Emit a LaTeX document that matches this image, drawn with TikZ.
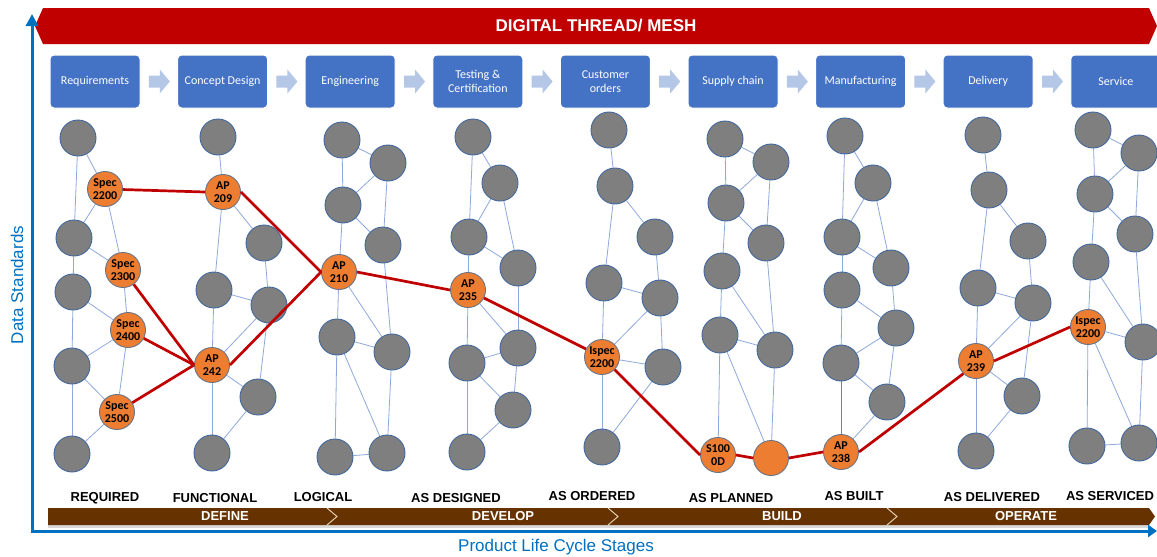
\documentclass[tikz,border=0pt]{standalone}
\usepackage{fontspec}
\setmainfont{Liberation Sans}
\newfontfamily\calfont{Carlito}
\usetikzlibrary{arrows.meta,calc}
\definecolor{nodegray}{HTML}{7F7F7F}
\definecolor{nodeborder}{HTML}{41679C}
\definecolor{nodeorange}{HTML}{ED7D31}
\definecolor{orangeborder}{HTML}{6A7487}
\definecolor{edgeblue}{HTML}{8EA9DB}
\definecolor{threadred}{HTML}{C00000}
\definecolor{boxblue}{HTML}{4472C4}
\definecolor{arrowfill}{HTML}{B4C7E7}
\definecolor{bandbrown}{HTML}{663300}
\definecolor{chevronline}{HTML}{EAD9BF}
\definecolor{axisblue}{HTML}{0070C0}
\definecolor{bannerred}{HTML}{C00000}
\pgfdeclarelayer{bg}
\pgfsetlayers{bg,main}
\begin{document}
\begin{tikzpicture}[x=1pt,y=-1pt,
  gnode/.style={circle, fill=nodegray, draw=nodeborder, line width=0.9pt, minimum size=36pt, inner sep=0pt},
  onode/.style={circle, fill=nodeorange, draw=orangeborder, line width=0.9pt, minimum size=35pt, inner sep=0pt,
    font=\calfont\bfseries\fontsize{12}{13.5}\selectfont, align=center, text=black},
  edge/.style={draw=edgeblue, line width=0.8pt},
  thread/.style={draw=threadred, line width=2.7pt},
  stagebox/.style={rectangle, rounded corners=4pt, fill=boxblue, draw=white, line width=1pt,
    minimum width=90pt, minimum height=53pt, inner sep=1pt, text=white,
    font=\calfont\fontsize{12}{14}\selectfont, align=center},
  stagelabel/.style={font=\bfseries\fontsize{13}{15}\selectfont, text=black, inner sep=0pt},
  phaselabel/.style={font=\bfseries\fontsize{13}{15}\selectfont, text=white, inner sep=0pt},
  axislabel/.style={font=\fontsize{17}{19}\selectfont, text=axisblue, inner sep=0pt}
]
\useasboundingbox (0,0) rectangle (1157,557);
\begin{pgfonlayer}{bg}
\fill[white] (0,0) rectangle (1157,557);
\end{pgfonlayer}

% banner
\fill[bannerred] (35,26) -- (43,8) -- (1149,8) -- (1157,26) -- (1149,44) -- (43,44) -- cycle;
\node[font=\bfseries\fontsize{17}{19}\selectfont, text=white] (banner) at (596,26) {DIGITAL THREAD/ MESH};

% stage boxes
\node[stagebox] (s1) at (95,81.5) {Requirements};
\node[stagebox] (s2) at (222.6,81.5) {Concept Design};
\node[stagebox] (s3) at (350.2,81.5) {Engineering};
\node[stagebox] (s4) at (477.8,81.5) {Testing \&\\Certification};
\node[stagebox] (s5) at (605.4,81.5) {Customer\\orders};
\node[stagebox] (s6) at (733,81.5) {Supply chain};
\node[stagebox] (s7) at (860.6,81.5) {Manufacturing};
\node[stagebox] (s8) at (988.2,81.5) {Delivery};
\node[stagebox] (s9) at (1115.8,81.5) {Service};
\foreach \i/\j in {1/2,2/3,3/4,4/5,5/6,6/7,7/8,8/9}
  \fill[arrowfill] ($(s\i.east)!0.5!(s\j.west)$) ++(-10,-6) -- ++(11,0) -- ++(0,-6) -- ++(10,12) -- ++(-10,12) -- ++(0,-6) -- ++(-11,0) -- cycle;

% cluster A (REQUIRED)
\node[gnode] (a1) at (78,138) {};
\node[onode] (sp2200) at (105,189) {Spec\\2200};
\node[gnode] (a2) at (74,238) {};
\node[onode] (sp2300) at (123,270) {Spec\\2300};
\node[gnode] (a3) at (73,292) {};
\node[onode] (sp2400) at (128,330) {Spec\\2400};
\node[gnode] (a4) at (72,366) {};
\node[onode] (sp2500) at (117,412) {Spec\\2500};
\node[gnode] (a5) at (72,454) {};

% cluster B (FUNCTIONAL)
\node[gnode] (b1) at (218,137) {};
\node[onode] (ap209) at (223,192) {AP\\209};
\node[gnode] (b2) at (264,243) {};
\node[gnode] (b3) at (214,290) {};
\node[gnode] (b4) at (269,305) {};
\node[onode] (ap242) at (212,365) {AP\\242};
\node[gnode] (b5) at (258,397) {};
\node[gnode] (b6) at (212,453) {};

% cluster C (LOGICAL)
\node[gnode] (c1) at (342,140) {};
\node[gnode] (c2) at (388,163) {};
\node[gnode] (c3) at (343,205) {};
\node[gnode] (c4) at (383,245) {};
\node[onode] (ap210) at (339,272) {AP\\210};
\node[gnode] (c5) at (337,337) {};
\node[gnode] (c6) at (392,352) {};
\node[gnode] (c7) at (335,457) {};
\node[gnode] (c8) at (387,453) {};

% cluster D (AS DESIGNED)
\node[gnode] (d1) at (473,137) {};
\node[gnode] (d2) at (500,183) {};
\node[gnode] (d3) at (469,237) {};
\node[gnode] (d4) at (518,268) {};
\node[onode] (ap235) at (468,290) {AP\\235};
\node[gnode] (d5) at (467,363) {};
\node[gnode] (d6) at (518,348) {};
\node[gnode] (d7) at (513,410) {};
\node[gnode] (d8) at (467,452) {};

% cluster E (AS ORDERED)
\node[gnode] (e1) at (609,130) {};
\node[gnode] (e2) at (615,186) {};
\node[gnode] (e3) at (655,237) {};
\node[gnode] (e4) at (604,283) {};
\node[gnode] (e5) at (660,298) {};
\node[onode] (is1) at (602,357) {Ispec\\2200};
\node[gnode] (e6) at (663,367) {};
\node[gnode] (e7) at (602,447) {};

% cluster F (AS PLANNED)
\node[gnode] (f1) at (725,139) {};
\node[gnode] (f2) at (771,162) {};
\node[gnode] (f3) at (726,203) {};
\node[gnode] (f4) at (766,243) {};
\node[gnode] (f5) at (722,271) {};
\node[gnode] (f6) at (720,335) {};
\node[gnode] (f7) at (775,350) {};
\node[onode] (s1000) at (718,455) {S100\\0D};
\node[onode] (f8) at (771,458) {};

% cluster G (AS BUILT)
\node[gnode] (g1) at (845,136) {};
\node[gnode] (g2) at (873,183) {};
\node[gnode] (g3) at (842,237) {};
\node[gnode] (g4) at (891,268) {};
\node[gnode] (g5) at (842,290) {};
\node[gnode] (g6) at (896,328) {};
\node[gnode] (g7) at (841,363) {};
\node[gnode] (g8) at (887,402) {};
\node[onode] (ap238) at (841,452) {AP\\238};

% cluster H (AS DELIVERED)
\node[gnode] (h1) at (983,135) {};
\node[gnode] (h2) at (989,190) {};
\node[gnode] (h3) at (1028,241) {};
\node[gnode] (h4) at (978,288) {};
\node[gnode] (h5) at (1033,303) {};
\node[onode] (ap239) at (976,361) {AP\\239};
\node[gnode] (h6) at (1022,396) {};
\node[gnode] (h7) at (976,451) {};

% cluster I (AS SERVICED)
\node[gnode] (i1) at (1093,130) {};
\node[gnode] (i2) at (1139,153) {};
\node[gnode] (i3) at (1095,194) {};
\node[gnode] (i4) at (1135,234) {};
\node[gnode] (i5) at (1091,262) {};
\node[onode] (is2) at (1088,327) {Ispec\\2200};
\node[gnode] (i6) at (1143,342) {};
\node[gnode] (i7) at (1087,446) {};
\node[gnode] (i8) at (1139,443) {};

% thin mesh edges
\begin{pgfonlayer}{bg}
\foreach \u/\v in {a1/sp2200, a1/a2, sp2200/a2, sp2200/sp2300, a2/sp2300, a2/a3, a3/sp2400,
  sp2300/sp2400, a3/a4, sp2400/a4, sp2400/sp2500, a4/sp2500, a4/a5, sp2500/a5,
  b1/ap209, ap209/b3, ap209/b2, b2/b4, b3/b4, b3/ap242, b4/ap242, b4/b5, ap242/b5, ap242/b6, b5/b6,
  c1/c2, c1/c3, c3/c2, c2/c4, c3/c4, c3/ap210, ap210/c5, ap210/c6, c4/c6, c5/c6, c5/c7, c5/c8, c6/c8, c7/c8,
  d1/d2, d1/d3, d2/d3, d2/d4, d3/d4, d3/ap235, ap235/d5, ap235/d6, d4/d6, d5/d6, d6/d7, d5/d7, d5/d8, d7/d8,
  e1/e2, e2/e3, e2/e4, e3/e5, e4/e5, e4/is1, is1/e5, is1/e6, e5/e6, is1/e7, e6/e7,
  f1/f2, f1/f3, f3/f2, f2/f4, f3/f4, f3/f5, f5/f6, f5/f7, f4/f7, f6/f7, f6/s1000, f6/f8, f7/f8,
  g1/g2, g1/g3, g2/g3, g2/g4, g3/g4, g3/g5, g4/g6, g5/g6, g5/g7, g7/g6, g7/g8, g6/g8, g8/ap238,
  h1/h2, h2/h3, h2/h4, h3/h5, h4/h5, h4/ap239, ap239/h5, ap239/h6, h5/h6, ap239/h7, h6/h7,
  i1/i2, i1/i3, i3/i2, i2/i4, i3/i4, i3/i5, i5/is2, i5/i6, i4/i6, is2/i6, is2/i7, is2/i8, i6/i8, i7/i8}
  \draw[edge] (\u) -- (\v);
\draw[draw=gray, line width=1pt] (g7) -- (ap238);
\end{pgfonlayer}

% digital thread
\draw[thread] (sp2200) -- (ap209.west);
\draw[thread] (ap209.east) -- (ap210.west);
\draw[thread] (sp2300) -- (ap242.west);
\draw[thread] (sp2400) -- (ap242.west);
\draw[thread] (sp2500) -- (ap242.west);
\draw[thread] (ap242.east) -- (ap210.west);
\draw[thread] (ap210.east) -- (ap235.west);
\draw[thread] (ap235) -- (is1);
\draw[thread] (is1) -- (s1000.west);
\draw[thread] (s1000.east) -- (f8.west);
\draw[thread] (f8.east) -- (ap238.west);
\draw[thread] (ap238.east) -- (ap239.south west);
\draw[thread] (ap239.east) -- (is2.west);

% lifecycle labels
\node[stagelabel] (lreq) at (105,498) {REQUIRED};
\node[stagelabel] (lfun) at (215,498) {FUNCTIONAL};
\node[stagelabel] (llog) at (323,497) {LOGICAL};
\node[stagelabel] (ldes) at (456,498) {AS DESIGNED};
\node[stagelabel] (lord) at (592,496) {AS ORDERED};
\node[stagelabel] (lpla) at (731,498) {AS PLANNED};
\node[stagelabel] (lbui) at (854,496) {AS BUILT};
\node[stagelabel] (ldel) at (992,497) {AS DELIVERED};
\node[stagelabel] (lser) at (1110,496) {AS SERVICED};

% phase band
\fill[black!15] (48,525) rectangle (1150,528);
\fill[bandbrown] (48,508) -- (1149,508) -- (1155,516.5) -- (1149,525) -- (48,525) -- cycle;
\foreach \x in {327,608,887}
  \draw[chevronline, line width=0.9pt] (\x,508) -- (\x+10,516.5) -- (\x,525);
\node[phaselabel] (pdef) at (225,516.5) {DEFINE};
\node[phaselabel] (pdev) at (503,516.5) {DEVELOP};
\node[phaselabel] (pbui) at (782,516.5) {BUILD};
\node[phaselabel] (pope) at (1026,516.5) {OPERATE};

% axes
\coordinate (ytop) at (32,14);
\coordinate (origin) at (32,531);
\coordinate (xend) at (1157,531);
\draw[axisblue, line width=3pt, line join=miter,
  {Triangle[length=12pt,width=12pt]}-{Triangle[length=9pt,width=12pt]}] (ytop) -- (origin) -- (xend);
\node[axislabel, rotate=90] (ylab) at (17,285) {Data Standards};
\node[axislabel] (xlab) at (556,547) {Product Life Cycle Stages};
\end{tikzpicture}
\end{document}
